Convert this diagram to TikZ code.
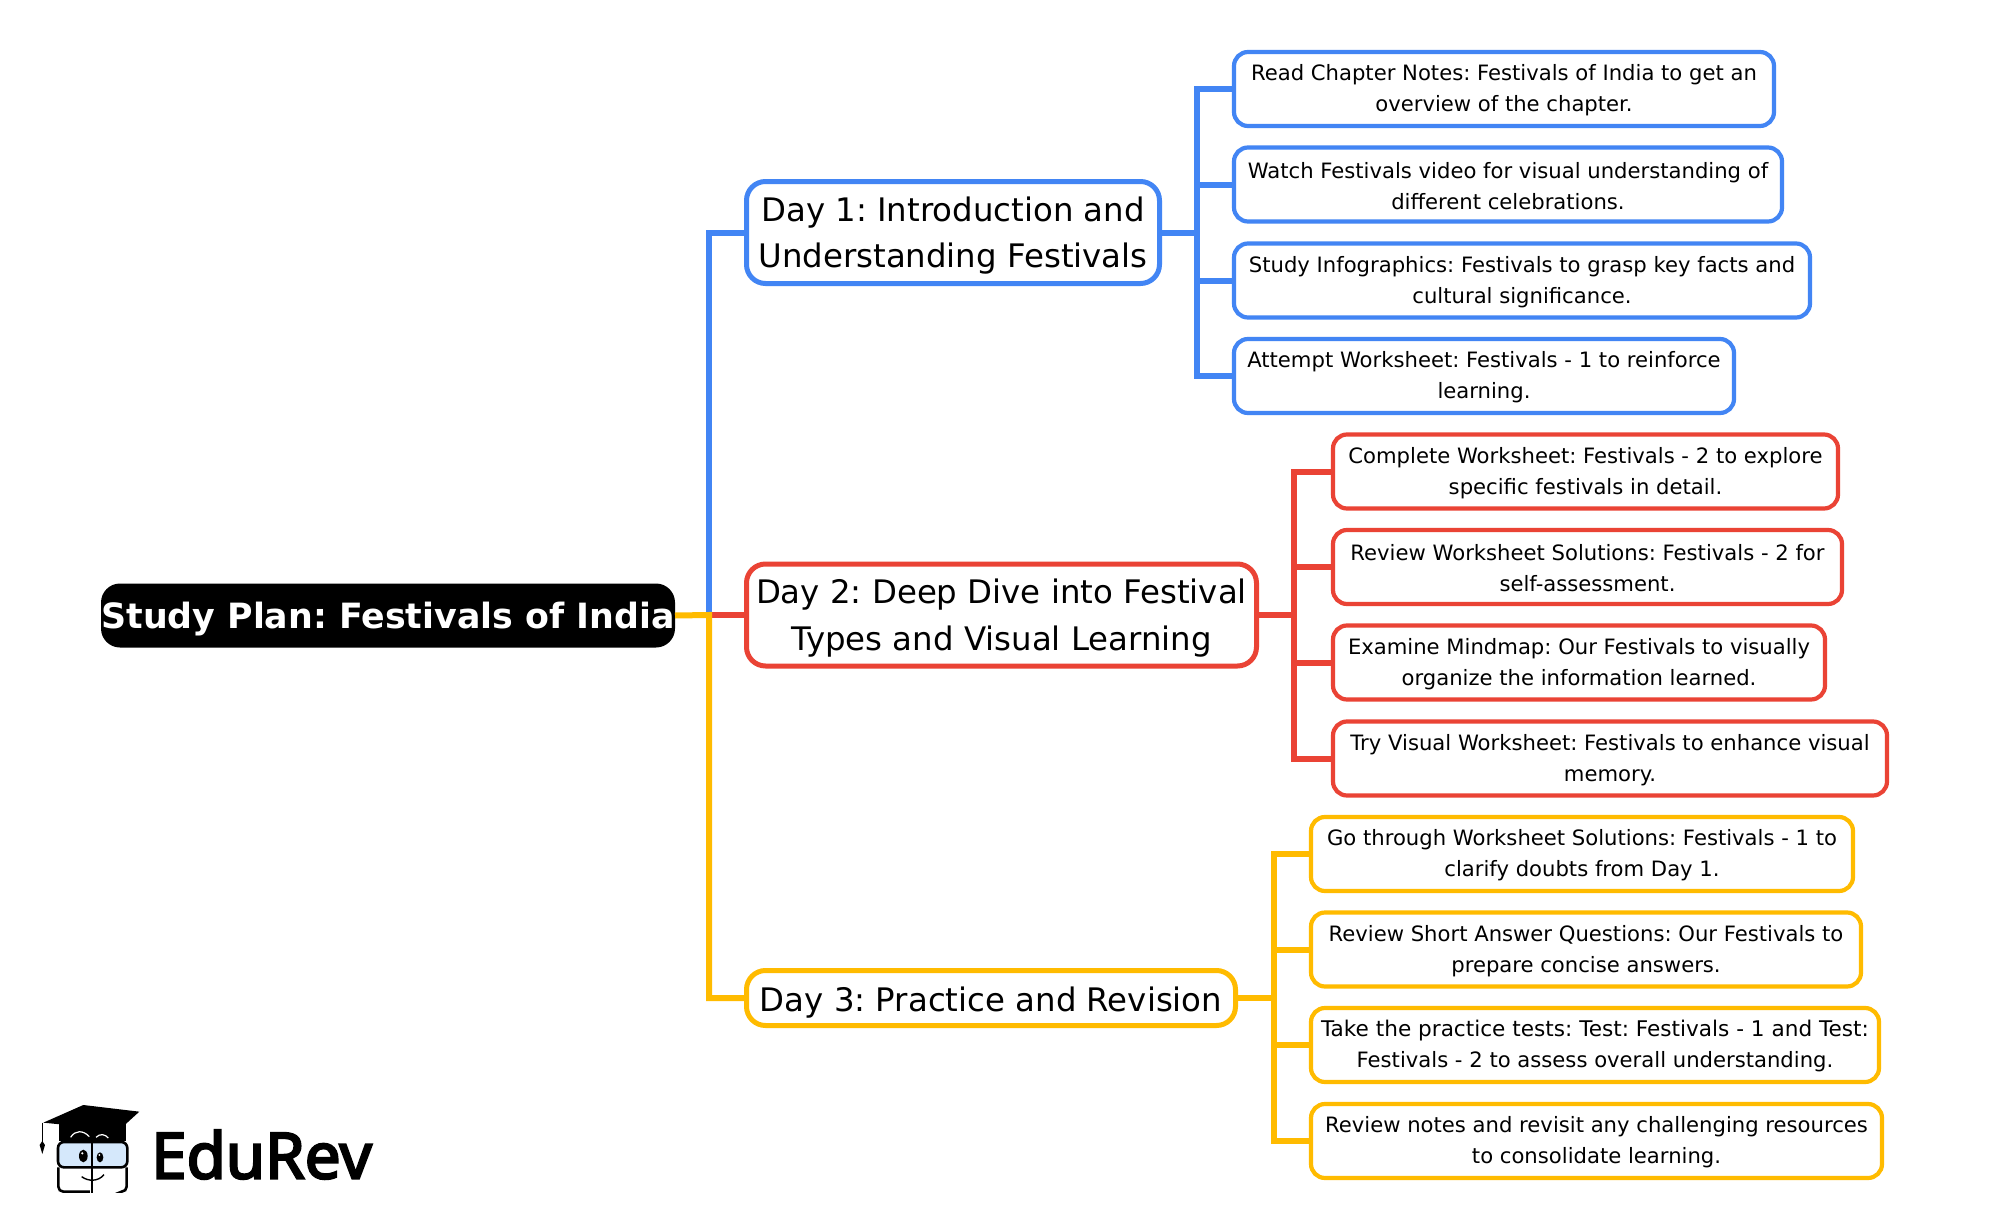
\documentclass[tikz,border=0pt]{standalone}
\usepackage{fontspec}
\setmainfont{DejaVu Sans}
\newfontfamily\logofont{Noto Sans}[FakeBold=3.5]
\frenchspacing
\definecolor{cblue}{HTML}{4285F4}
\definecolor{cred}{HTML}{EA4335}
\definecolor{cyel}{HTML}{FFBB00}
\definecolor{cglass}{HTML}{D5E8FB}
\tikzset{
  x=1pt,y=-1pt,
  boxbase/.style={anchor=west,draw,fill=white,text=black,align=center,inner sep=0pt,outer sep=0pt},
  mainbox/.style={boxbase,line width=5pt,rounded corners=19pt,text height=77pt,font=\fontsize{32.4}{46.5}\selectfont\frenchspacing},
  leafbox/.style={boxbase,line width=4.2pt,rounded corners=14pt,minimum height=74pt,text height=50pt,font=\fontsize{21.15}{31}\selectfont\frenchspacing},
  trunk/.style={line width=6pt,line join=miter},
  branch/.style={line width=6pt,line join=miter},
}
\begin{document}
\begin{tikzpicture}
\useasboundingbox[fill=white] (0,0) rectangle (1990,1231);
\node[anchor=west,fill=black,text=white,rounded corners=19pt,inner sep=0pt,outer sep=0pt,minimum width=574pt,minimum height=64pt,text height=34pt,font=\fontsize{34.8}{40}\selectfont\bfseries\frenchspacing] (root) at (101,615.5) {Study Plan: Festivals of India};

\node[mainbox,draw=cblue,minimum width=413pt,minimum height=102pt] (d1) at (746.5,232.5) {Day 1: Introduction and\\Understanding Festivals};
\node[mainbox,draw=cred,minimum width=510pt,minimum height=102pt] (d2) at (746.5,615) {Day 2: Deep Dive into Festival\\Types and Visual Learning};
\node[mainbox,draw=cyel,minimum width=489pt,minimum height=55pt,text height=33pt] (d3) at (746.5,998) {Day 3: Practice and Revision};

\node[leafbox,draw=cblue,minimum width=540pt] (a1) at (1234,89) {Read Chapter Notes: Festivals of India to get an\\overview of the chapter.};
\node[leafbox,draw=cblue,minimum width=548pt] (a2) at (1234,184.5) {Watch Festivals video for visual understanding of\\different celebrations.};
\node[leafbox,draw=cblue,minimum width=576pt] (a3) at (1234,280.5) {Study Infographics: Festivals to grasp key facts and\\cultural significance.};
\node[leafbox,draw=cblue,minimum width=500pt] (a4) at (1234,376) {Attempt Worksheet: Festivals - 1 to reinforce\\learning.};

\node[leafbox,draw=cred,minimum width=505pt] (b1) at (1333,471.5) {Complete Worksheet: Festivals - 2 to explore\\specific festivals in detail.};
\node[leafbox,draw=cred,minimum width=509pt] (b2) at (1333,567) {Review Worksheet Solutions: Festivals - 2 for\\self-assessment.};
\node[leafbox,draw=cred,minimum width=492pt] (b3) at (1333,662.5) {Examine Mindmap: Our Festivals to visually\\organize the information learned.};
\node[leafbox,draw=cred,minimum width=554pt] (b4) at (1333,758.5) {Try Visual Worksheet: Festivals to enhance visual\\memory.};

\node[leafbox,draw=cyel,minimum width=542pt] (c1) at (1311,854) {Go through Worksheet Solutions: Festivals - 1 to\\clarify doubts from Day 1.};
\node[leafbox,draw=cyel,minimum width=550pt] (c2) at (1311,949.5) {Review Short Answer Questions: Our Festivals to\\prepare concise answers.};
\node[leafbox,draw=cyel,minimum width=568pt] (c3) at (1311,1045) {{\fontsize{21.6}{31}\selectfont Take the practice tests: Test: Festivals - 1 and Test:}\\Festivals - 2 to assess overall understanding.};
\node[leafbox,draw=cyel,minimum width=571pt] (c4) at (1311,1141) {Review notes and revisit any challenging resources\\to consolidate learning.};

\coordinate (t) at (709,615);
\draw[trunk,cblue] (t) |- (d1.west);
\draw[trunk,cred] (t) -- (d2.west);
\draw[trunk,cyel] (root.east) -- (t) |- (d3.west);

\coordinate (ja) at (1196.5,232.5);
\coordinate (jb) at (1294,615);
\coordinate (jc) at (1273.5,998);
\draw[branch,cblue] (d1.east) -- (ja);
\draw[branch,cblue] (ja) |- (a1.west);
\draw[branch,cblue] (ja) |- (a2.west);
\draw[branch,cblue] (ja) |- (a3.west);
\draw[branch,cblue] (ja) |- (a4.west);
\draw[branch,cred] (d2.east) -- (jb);
\draw[branch,cred] (jb) |- (b1.west);
\draw[branch,cred] (jb) |- (b2.west);
\draw[branch,cred] (jb) |- (b3.west);
\draw[branch,cred] (jb) |- (b4.west);
\draw[branch,cyel] (d3.east) -- (jc);
\draw[branch,cyel] (jc) |- (c1.west);
\draw[branch,cyel] (jc) |- (c2.west);
\draw[branch,cyel] (jc) |- (c3.west);
\draw[branch,cyel] (jc) |- (c4.west);

% logo
\begin{scope}[shift={(0,1080)},x=0.3333pt,y=-0.3333pt]
  \fill[black] (178,130) -- (378,130) -- (378,182) -- (178,182) -- cycle;
  \draw[white,line width=1.2pt] (212,172) .. controls (225,150) and (250,150) .. (268,170);
  \draw[white,line width=1.2pt] (288,172) .. controls (300,160) and (315,162) .. (325,174);
  \fill[black] (130,128) -- (250,75) -- (418,95) -- (340,166) -- (250,140) -- cycle;
  \draw[black,line width=1.6pt] (127,128) -- (127,188);
  \fill[black] (119,195) -- (127,183) -- (135,195) -- (127,222) -- cycle;
  \draw[black,line width=2.6pt,rounded corners=5pt] (175,262) -- (175,335) -- (270,335);
  \draw[black,line width=2.6pt,rounded corners=5pt] (380,262) -- (380,335) -- (366,335);
  \draw[black,line width=2.6pt,fill=cglass,rounded corners=6pt] (174,186) rectangle (382,262);
  \draw[black,line width=2.2pt] (277,184) -- (277,338);
  \fill[black] (250,228) ellipse [x radius=13,y radius=19];
  \fill[black] (300,232) ellipse [x radius=10,y radius=15];
  \fill[white] (247,220) circle (3.5);
  \fill[white] (298,225) circle (3);
  \draw[black,line width=1.4pt] (245,290) .. controls (265,305) and (295,305) .. (312,284);
\end{scope}
\node[anchor=base west,inner sep=0pt,font=\logofont\fontsize{63.7}{64}\selectfont] (logo) at (151,1178.5) {EduRev};
\end{tikzpicture}
\end{document}
